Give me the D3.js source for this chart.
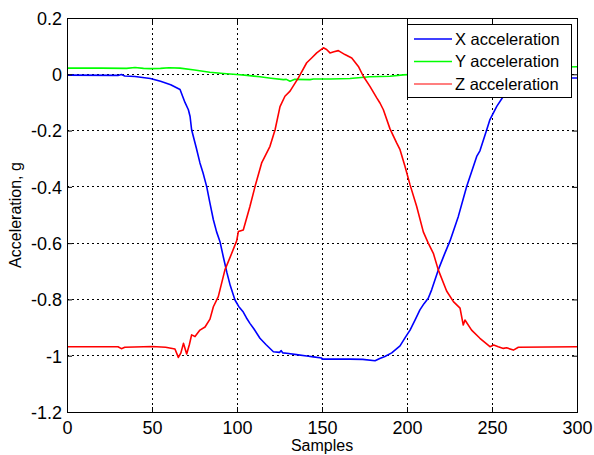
<!DOCTYPE html>
<html><head><meta charset="utf-8">
<script src="https://cdn.jsdelivr.net/npm/d3@7"></script>
<style>body{margin:0;background:#fff}svg{display:block;font-family:"Liberation Sans",Arial,sans-serif}</style>
</head><body><svg id="c" width="594" height="455"></svg>
<script>
const xTicks = [0, 50, 100, 150, 200, 250, 300];
const yTicks = [0.2, 0, -0.2, -0.4, -0.6, -0.8, -1, -1.2];
const yTickLabels = ["0.2", "0", "-0.2", "-0.4", "-0.6", "-0.8", "-1", "-1.2"];
const seriesNames = ["X acceleration", "Y acceleration", "Z acceleration"];
const seriesColors = ["#0000ff", "#00ff00", "#ff0000"];

const xSamples = [0,30,32,34,40,49,55,61,66.5,68,69.4,71.4,72.4,73.3,76,78.2,80,82.2,84,86.1,88,90,92,94,96,98.8,101,103.7,105.5,107.6,110,113.5,117,121.4,125,126,127,129.2,135,141,145,149.8,150,158,166.5,174,181.2,184,187,191,195.9,199,201.8,205,207.6,210,212.5,214.5,218.4,222,225.3,230.2,235.1,241,242.9,246.9,248.8,252.8,256.7,260,265,270,280,290,300];
const xValues = [-0.003,-0.004,-0.001,-0.006,-0.008,-0.015,-0.025,-0.037,-0.054,-0.078,-0.1,-0.126,-0.15,-0.197,-0.26,-0.315,-0.35,-0.4,-0.455,-0.517,-0.56,-0.595,-0.65,-0.703,-0.75,-0.802,-0.825,-0.845,-0.865,-0.885,-0.905,-0.938,-0.96,-0.986,-0.988,-0.982,-0.99,-0.991,-0.996,-1.001,-1.004,-1.008,-1.012,-1.012,-1.012,-1.013,-1.018,-1.01,-1.003,-0.99,-0.965,-0.935,-0.909,-0.87,-0.837,-0.815,-0.796,-0.766,-0.695,-0.64,-0.592,-0.505,-0.399,-0.292,-0.272,-0.197,-0.161,-0.114,-0.078,-0.05,-0.03,-0.02,-0.015,-0.013,-0.013];

const ySamples = [0,20,35,40,45,49,55,60,66.5,75,84,92,99.8,106,113.5,120,127.3,129,131.2,134,142.9,145,155,166.5,178,190,197.8,205,220,240,260,280,300];
const yValues = [0.022,0.022,0.021,0.024,0.021,0.02,0.021,0.023,0.022,0.015,0.007,0.003,-0.001,-0.004,-0.009,-0.014,-0.019,-0.018,-0.025,-0.018,-0.019,-0.017,-0.017,-0.015,-0.009,-0.007,-0.002,0.0,0.005,0.012,0.018,0.024,0.027];

const zSamples = [0,30,32,34,45,50,58,63.5,65.5,67,68.5,70.4,72,73.3,75.3,78.2,81.2,84.1,86.1,89,92.9,96.9,99.8,100.8,103.7,107.6,110.6,114.5,119.4,122.4,125.3,128.2,131.2,136.1,141,143.9,146.9,150.8,152.7,154.7,157,159.6,163.5,167.5,171.4,174.3,178.2,182.2,184.1,186.1,190,193.9,195.9,198.8,201.8,205.7,209.6,212.5,215.5,218.4,223.3,227.3,231.2,233.1,234.1,238,242.9,248.8,251,253.7,256.7,258.6,262.6,265.5,300];
const zValues = [-0.968,-0.968,-0.975,-0.97,-0.968,-0.967,-0.97,-0.976,-1.006,-0.99,-0.956,-0.994,-0.96,-0.926,-0.932,-0.909,-0.898,-0.87,-0.826,-0.79,-0.695,-0.636,-0.592,-0.559,-0.553,-0.47,-0.399,-0.315,-0.256,-0.197,-0.115,-0.078,-0.06,-0.013,0.041,0.058,0.076,0.094,0.088,0.076,0.08,0.084,0.07,0.058,0.028,-0.007,-0.043,-0.084,-0.102,-0.126,-0.194,-0.244,-0.268,-0.327,-0.393,-0.47,-0.56,-0.6,-0.636,-0.695,-0.77,-0.808,-0.831,-0.891,-0.873,-0.909,-0.938,-0.968,-0.962,-0.968,-0.974,-0.972,-0.98,-0.97,-0.968];

const series = [
  {name: seriesNames[0], color: seriesColors[0], pts: xSamples.map((s,i)=>[s,xValues[i]])},
  {name: seriesNames[1], color: seriesColors[1], pts: ySamples.map((s,i)=>[s,yValues[i]])},
  {name: seriesNames[2], color: seriesColors[2], pts: zSamples.map((s,i)=>[s,zValues[i]])}
];

const svg = d3.select("#c");
const m = {l:67, t:18, r:17, b:43};
const W = 594 - m.l - m.r, H = 455 - m.t - m.b;
const x = d3.scaleLinear().domain([0,300]).range([m.l, m.l+W]);
const y = d3.scaleLinear().domain([-1.2,0.2]).range([m.t+H, m.t]);

// grid
const g = svg.append("g");
g.selectAll(".vg").data(xTicks.slice(1,-1)).join("line")
  .attr("x1",d=>x(d)).attr("x2",d=>x(d)).attr("y1",m.t).attr("y2",m.t+H)
  .attr("stroke","#000").attr("stroke-width",1).attr("stroke-dasharray","2,3").attr("shape-rendering","crispEdges");
g.selectAll(".hg").data(yTicks.slice(1,-1)).join("line")
  .attr("y1",d=>y(d)).attr("y2",d=>y(d)).attr("x1",m.l).attr("x2",m.l+W)
  .attr("stroke","#000").attr("stroke-width",1).attr("stroke-dasharray","2,3").attr("shape-rendering","crispEdges");

// lines
const line = d3.line().x(d=>x(d[0])).y(d=>y(d[1]));
svg.selectAll(".s").data(series).join("path")
  .attr("d",d=>line(d.pts)).attr("fill","none").attr("stroke",d=>d.color)
  .attr("stroke-width",1.6).attr("stroke-linejoin","round");

// axes
const xa = svg.append("g").attr("transform",`translate(0,${m.t+H})`)
  .call(d3.axisBottom(x).tickValues(xTicks).tickSize(-5).tickPadding(9).tickFormat(d3.format("d")));
const ya = svg.append("g").attr("transform",`translate(${m.l},0)`)
  .call(d3.axisLeft(y).tickValues(yTicks).tickSize(-5).tickPadding(5).tickFormat((d,i)=>yTickLabels[i]));
[xa,ya].forEach(a=>{
  a.select(".domain").remove();
  a.selectAll("text").attr("font-size",18).attr("fill","#000").attr("font-family","Liberation Sans, Arial, sans-serif");
  a.selectAll("line").attr("stroke","#000");
});
ya.selectAll("text").attr("dy","0.35em");
svg.append("g").attr("transform",`translate(0,${m.t})`)
  .call(d3.axisTop(x).tickValues(xTicks).tickSize(-5).tickFormat("")).select(".domain").remove();
svg.append("g").attr("transform",`translate(${m.l+W},0)`)
  .call(d3.axisRight(y).tickValues(yTicks).tickSize(-5).tickFormat("")).select(".domain").remove();
svg.append("rect").attr("x",m.l).attr("y",m.t).attr("width",W).attr("height",H)
  .attr("fill","none").attr("stroke","#000").attr("stroke-width",1).attr("shape-rendering","crispEdges");

// labels
svg.append("text").attr("x",x(150)).attr("y",451).attr("text-anchor","middle")
  .attr("font-size",16).text("Samples");
svg.append("text").attr("transform",`translate(21,${y(-0.5)}) rotate(-90)`).attr("text-anchor","middle")
  .attr("font-size",16).text("Acceleration, g");

// legend
const lg = svg.append("g");
lg.append("rect").attr("x",407.5).attr("y",24.5).attr("width",164).attr("height",73)
  .attr("fill","#fff").attr("stroke","#000").attr("stroke-width",1);
series.forEach((s,i)=>{
  const cy = 39 + i*22.5;
  lg.append("line").attr("x1",414).attr("x2",452).attr("y1",cy).attr("y2",cy)
    .attr("stroke",s.color).attr("stroke-width",i===2?1.1:1.6);
  lg.append("text").attr("x",455).attr("y",cy).attr("dy","0.36em").attr("font-size",16.5).text(s.name);
});
</script></body></html>
